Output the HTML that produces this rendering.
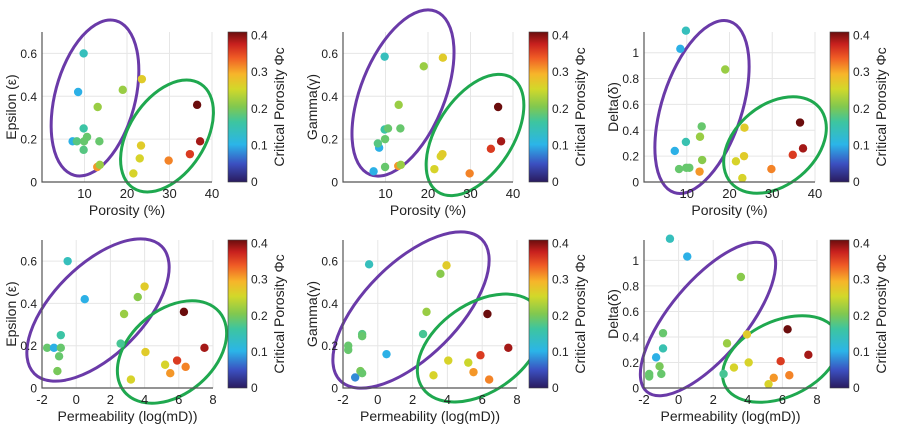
<!DOCTYPE html>
<html><head><meta charset="utf-8"><style>
body{margin:0;background:#fff;}
svg{display:block;font-family:"Liberation Sans",sans-serif;}
</style></head><body>
<svg id="fig" width="901" height="433" viewBox="0 0 901 433">
<defs>
<linearGradient id="cmap" x1="0" y1="1" x2="0" y2="0">
<stop offset="0" stop-color="#2a1b5e"/><stop offset="0.12" stop-color="#3b4fc0"/>
<stop offset="0.25" stop-color="#2bb5e8"/><stop offset="0.4" stop-color="#3dc5a0"/>
<stop offset="0.5" stop-color="#80c850"/><stop offset="0.62" stop-color="#d2d82a"/>
<stop offset="0.72" stop-color="#f7b52a"/><stop offset="0.83" stop-color="#ef5a25"/>
<stop offset="0.92" stop-color="#c8201e"/><stop offset="1" stop-color="#6b0d0d"/>
</linearGradient>
</defs>
</svg>
<script>
// Panel 1: porosity vs epsilon
const p1x=[9.8,8.5,7.2,8.2,9.8,9.9,10.6,9.8,13.5,13.1,19,23.5,13,13.6,21.5,23,23.3,29.8,34.8,36.5,37.2];
const p1y=[0.60,0.42,0.19,0.19,0.25,0.19,0.21,0.15,0.19,0.35,0.43,0.48,0.07,0.08,0.04,0.11,0.17,0.10,0.13,0.36,0.19];
const p1c=[0.14,0.10,0.10,0.18,0.16,0.19,0.19,0.18,0.19,0.22,0.22,0.27,0.31,0.22,0.26,0.26,0.27,0.32,0.36,0.41,0.39];
// Panel 2: porosity vs gamma
const p2x=[9.8,8.5,7.2,8.2,9.8,9.9,10.6,9.9,13.5,13.1,19,23.5,13,13.6,21.5,23,23.4,29.8,34.8,36.5,37.2];
const p2y=[0.585,0.16,0.05,0.18,0.245,0.20,0.25,0.07,0.25,0.36,0.54,0.58,0.075,0.08,0.06,0.12,0.13,0.04,0.155,0.35,0.19];
const p2c=[0.14,0.10,0.10,0.18,0.16,0.19,0.19,0.19,0.19,0.22,0.22,0.27,0.31,0.22,0.26,0.26,0.27,0.32,0.36,0.41,0.39];
// Panel 3: porosity vs delta
const p3x=[9.8,8.5,7.2,8.2,9.8,9.9,10.6,13.5,13.1,19,23.5,13,13.6,21.5,23,23.4,29.8,34.8,36.5,37.2];
const p3y=[1.17,1.03,0.24,0.10,0.31,0.11,0.11,0.43,0.35,0.87,0.42,0.08,0.17,0.16,0.03,0.20,0.10,0.21,0.46,0.26];
const p3c=[0.14,0.10,0.10,0.19,0.15,0.19,0.19,0.19,0.22,0.22,0.27,0.31,0.21,0.26,0.26,0.27,0.32,0.36,0.41,0.39];
// Panel 4: permeability vs epsilon
const p4x=[-0.5,0.5,-1.7,-1.3,-0.9,-0.9,-1.0,-1.1,2.6,2.8,3.6,4.0,4.05,3.2,5.2,5.5,5.9,6.4,6.3,7.5];
const p4y=[0.60,0.42,0.19,0.19,0.19,0.25,0.15,0.08,0.21,0.35,0.43,0.48,0.17,0.04,0.11,0.07,0.13,0.10,0.36,0.19];
const p4c=[0.14,0.10,0.19,0.10,0.19,0.16,0.19,0.20,0.17,0.22,0.21,0.27,0.27,0.26,0.26,0.31,0.36,0.32,0.41,0.39];
// Panel 5: permeability vs gamma
const p5x=[-0.5,0.5,-1.3,-1.7,-1.7,-0.9,-0.9,-1.0,-0.9,2.6,2.8,3.6,3.95,4.05,3.2,5.2,5.5,5.9,6.4,6.3,7.5];
const p5y=[0.585,0.16,0.05,0.20,0.18,0.255,0.245,0.08,0.07,0.255,0.36,0.54,0.58,0.13,0.06,0.12,0.075,0.155,0.04,0.35,0.19];
const p5c=[0.14,0.10,0.08,0.19,0.19,0.18,0.19,0.20,0.19,0.17,0.22,0.21,0.27,0.26,0.26,0.25,0.31,0.36,0.32,0.41,0.39];
// Panel 6: permeability vs delta
const p6x=[-0.5,0.5,-1.3,-0.9,-0.9,-1.7,-1.7,-1.1,-1.0,2.6,2.8,3.6,3.95,3.2,4.05,5.2,5.5,6.4,5.9,6.3,7.5];
const p6y=[1.17,1.03,0.24,0.31,0.43,0.11,0.09,0.17,0.11,0.11,0.35,0.87,0.42,0.16,0.20,0.03,0.08,0.10,0.21,0.46,0.26];
const p6c=[0.14,0.10,0.10,0.15,0.19,0.19,0.19,0.20,0.19,0.17,0.22,0.21,0.27,0.26,0.26,0.26,0.31,0.32,0.36,0.41,0.39];
const porTicks=[10,20,30,40];
const permTicks=[-2,0,2,4,6,8];
const eTicks=[0,0.2,0.4,0.6];
const dTicks=[0,0.2,0.4,0.6,0.8,1];
const cTicks=[0,0.1,0.2,0.3,0.4];

const NS="http://www.w3.org/2000/svg";
const svgEl=document.getElementById('fig');
function mk(tag,attrs,parent,text){const e=document.createElementNS(NS,tag);for(const k in attrs)e.setAttribute(k,attrs[k]);if(text!==undefined)e.textContent=text;(parent||svgEl).appendChild(e);return e;}
const cstops=[[0,[42,27,94]],[0.12,[59,79,192]],[0.25,[43,181,232]],[0.4,[61,197,160]],[0.5,[128,200,80]],[0.62,[210,216,42]],[0.72,[247,181,42]],[0.83,[239,90,37]],[0.92,[200,32,30]],[1,[107,13,13]]];
function cmap(v){let t=Math.max(0,Math.min(1,v/0.41));for(let i=1;i<cstops.length;i++){if(t<=cstops[i][0]){const a=cstops[i-1],b=cstops[i];const f=(t-a[0])/(b[0]-a[0]);const c=a[1].map((x,j)=>Math.round(x+(b[1][j]-x)*f));return `rgb(${c.join(',')})`;}}return 'rgb(107,13,13)';}

function panel(o){
  const g=mk('g',{});
  
  
  const sx=v=>o.L+(v-o.xmin)/(o.xmax-o.xmin)*(o.R-o.L);
  const sy=v=>o.B-(v-o.ymin)/(o.ymax-o.ymin)*(o.B-o.T);
  o.xt.forEach(t=>{const l=mk('line',{x1:sx(t),x2:sx(t),y1:o.T,y2:o.B,stroke:'#e6e6e6','stroke-width':1},g);
    
    });
  o.yt.forEach(t=>{const l=mk('line',{x1:o.L,x2:o.R,y1:sy(t),y2:sy(t),stroke:'#e6e6e6','stroke-width':1},g);
    
    });
  o.ell.forEach((e,i)=>{const el=mk('ellipse',{cx:0,cy:0,rx:e[3],ry:e[4],fill:'none',stroke:i==0?'#6a3aa8':'#1fa84f','stroke-width':3,transform:`translate(${e[0]},${e[1]}) rotate(${-e[2]})`},g);
    
    });
  o.x.forEach((v,i)=>{const c=mk('circle',{cx:sx(v),cy:sy(o.y[i]),r:4.2,fill:cmap(o.c[i])},g);
    
    });
  const ax=mk('path',{d:`M${o.L},${o.T}V${o.B}H${o.R}`,stroke:'#555',fill:'none','stroke-width':1.2},g);
  
  
  o.xt.forEach(t=>{const tx=mk('text',{x:sx(t),y:o.B+16,'font-size':13,'text-anchor':'middle',fill:'#222'},g,String(t));
    
    });
  o.yt.forEach(t=>{const tx=mk('text',{x:o.L-5,y:sy(t)+4.5,'font-size':12,'text-anchor':'end',fill:'#222'},g,String(t));
    
    });
  const xl=mk('text',{x:(o.L+o.R)/2,y:o.B+33,'font-size':14,'text-anchor':'middle',fill:'#222'},g,o.xl);
  
  
  const yl=mk('text',{x:0,y:0,'font-size':14,'text-anchor':'middle',fill:'#222',transform:`translate(${o.L-26},${(o.T+o.B)/2}) rotate(-90)`},g,o.yl);
  
  
  const cb=mk('rect',{x:o.cbx,y:o.T,width:19,height:o.B-o.T,fill:'url(#cmap)',stroke:'#444','stroke-width':0.6},g);
  
  
  const cy=v=>o.B-v/0.41*(o.B-o.T);
  cTicks.forEach(t=>{const tx=mk('text',{x:o.cbx+23,y:cy(t)+4,'font-size':12,fill:'#222'},g,String(t));
    
    });
  const cl=mk('text',{x:0,y:0,'font-size':14,'text-anchor':'middle',fill:'#222',transform:`translate(${o.cbx+56},${(o.T+o.B)/2}) rotate(-90)`},g,'Critical Porosity Φc');
  
  
}
const topRow={T:32,B:182},botRow={T:240,B:388};
panel({name:'epsilon-vs-porosity',x:p1x,y:p1y,c:p1c,L:42,R:212,xmin:0,xmax:40,ymin:0,ymax:0.7,T:topRow.T,B:topRow.B,xt:porTicks,yt:eTicks,xl:'Porosity (%)',yl:'Epsilon (ε)',cbx:228,ell:[[95,98,75,80,40],[167,136,57,62,38]]});
panel({name:'gamma-vs-porosity',x:p2x,y:p2y,c:p2c,L:343,R:513,xmin:0,xmax:40,ymin:0,ymax:0.7,T:topRow.T,B:topRow.B,xt:porTicks,yt:eTicks,xl:'Porosity (%)',yl:'Gamma(γ)',cbx:529,ell:[[403,93,68,88,42],[475,135,57,68,38]]});
panel({name:'delta-vs-porosity',x:p3x,y:p3y,c:p3c,L:644,R:815,xmin:0,xmax:40,ymin:0,ymax:1.16,T:topRow.T,B:topRow.B,xt:porTicks,yt:dTicks,xl:'Porosity (%)',yl:'Delta(δ)',cbx:830,ell:[[702,107,72,90,40],[775,145,40,58,40]]});
panel({name:'epsilon-vs-permeability',x:p4x,y:p4y,c:p4c,L:42,R:213,xmin:-2,xmax:8,ymin:0,ymax:0.7,T:botRow.T,B:botRow.B,xt:permTicks,yt:eTicks,xl:'Permeability (log(mD))',yl:'Epsilon (ε)',cbx:228,ell:[[98,310,45,90,45],[172,352,40,62,42]]});
panel({name:'gamma-vs-permeability',x:p5x,y:p5y,c:p5c,L:343,R:517,xmin:-2,xmax:8,ymin:0,ymax:0.7,T:botRow.T,B:botRow.B,xt:permTicks,yt:eTicks,xl:'Permeability (log(mD))',yl:'Gamma(γ)',cbx:529,ell:[[411,310,45,100,47],[480,348,35,70,44]]});
panel({name:'delta-vs-permeability',x:p6x,y:p6y,c:p6c,L:644,R:817,xmin:-2,xmax:8,ymin:0,ymax:1.16,T:botRow.T,B:botRow.B,xt:permTicks,yt:dTicks,xl:'Permeability (log(mD))',yl:'Delta(δ)',cbx:830,ell:[[708,319,50,95,38],[781,359,25,62,38]]});
</script>
</body></html>
